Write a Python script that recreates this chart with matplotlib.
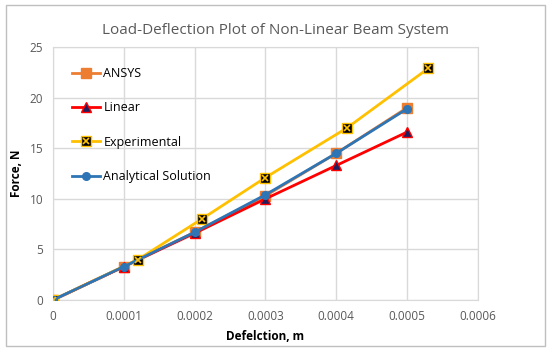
import matplotlib.pyplot as plt
from matplotlib.patches import Rectangle

# Data
x_fem = [0, 0.0001, 0.0002, 0.0003, 0.0004, 0.0005]
ansys = [0, 3.3, 6.7, 10.3, 14.5, 19.0]
linear = [0, 3.3, 6.6, 10.0, 13.3, 16.6]
analytical = [0, 3.3, 6.7, 10.4, 14.5, 18.9]
x_exp = [0, 0.00012, 0.00021, 0.0003, 0.000415, 0.00053]
experimental = [0, 4.0, 8.0, 12.1, 17.0, 22.9]

x_ticks = [0, 0.0001, 0.0002, 0.0003, 0.0004, 0.0005, 0.0006]
x_ticklabels = ["0", "0.0001", "0.0002", "0.0003", "0.0004", "0.0005", "0.0006"]
y_ticks = [0, 5, 10, 15, 20, 25]

plt.rcParams["font.family"] = ["Open Sans", "DejaVu Sans"]

fig = plt.figure(figsize=(5.5, 3.51), dpi=100)
fig.patches.append(Rectangle((0.01, 0.015), 0.98, 0.97, transform=fig.transFigure,
                             fill=False, edgecolor="#BFBFBF", linewidth=1))
ax = fig.add_axes([0.096, 0.145, 0.773, 0.721])

ax.plot(x_fem, ansys, "-s", color="#ED7D31", markersize=6.5, linewidth=2,
        zorder=3)
ax.plot(x_fem, linear, "-", color="#FF0000", linewidth=2, zorder=3)
ax.plot(x_fem, linear, "^", color="#1F1F5F", markeredgecolor="#FF0000",
        markersize=6.5, zorder=4)
ax.plot(x_exp, experimental, "-", color="#FFC000", linewidth=2, zorder=3)
ax.plot(x_exp, experimental, "s", color="black", markeredgecolor="#FFC000",
        markersize=7, zorder=4)
ax.plot(x_exp, experimental, "x", color="#FFC000", markersize=5,
        markeredgewidth=1.2, zorder=5)
ax.plot(x_fem, analytical, "-o", color="#2E75B6", markersize=5.5, linewidth=2,
        zorder=4)

# legend handles
h_ansys = ax.plot([], [], "-s", color="#ED7D31", markersize=6.5, linewidth=2)[0]
h_lin = ax.plot([], [], "-^", color="#FF0000", markerfacecolor="#1F1F5F",
                markeredgecolor="#FF0000", markersize=6.5, linewidth=2)[0]
h_exp1 = ax.plot([], [], "-s", color="#FFC000", markerfacecolor="black",
                 markeredgecolor="#FFC000", markersize=7, linewidth=2)[0]
h_exp2 = ax.plot([], [], "x", color="#FFC000", markersize=5,
                 markeredgewidth=1.2)[0]
h_an = ax.plot([], [], "-o", color="#2E75B6", markersize=5.5, linewidth=2)[0]
ax.legend([h_ansys, h_lin, (h_exp1, h_exp2), h_an],
          ["ANSYS", "Linear", "Experimental", "Analytical Solution"],
          loc="upper left", bbox_to_anchor=(0.025, 0.955), frameon=False,
          fontsize=9, labelspacing=1.7, handlelength=2.2, handletextpad=0.3,
          borderaxespad=0.3)

ax.set_xlim(0, 0.0006)
ax.set_ylim(0, 25)
ax.set_xticks(x_ticks)
ax.set_xticklabels(x_ticklabels)
ax.set_yticks(y_ticks)
ax.grid(True, color="#D9D9D9", linewidth=1)
ax.set_axisbelow(True)
for s in ax.spines.values():
  s.set_color("#D9D9D9")
ax.tick_params(length=0, labelsize=8.5, colors="#595959", pad=7)

ax.set_xlabel("Defelction, m", fontsize=8.5, fontweight="bold", color="black",
              labelpad=5)
ax.set_ylabel("Force, N", fontsize=8.5, fontweight="bold", color="black",
              labelpad=5)

fig.suptitle("Load-Deflection Plot of Non-Linear Beam System", x=0.5, y=0.935,
             fontsize=11, color="#595959")

fig.savefig("out.png", dpi=100)
